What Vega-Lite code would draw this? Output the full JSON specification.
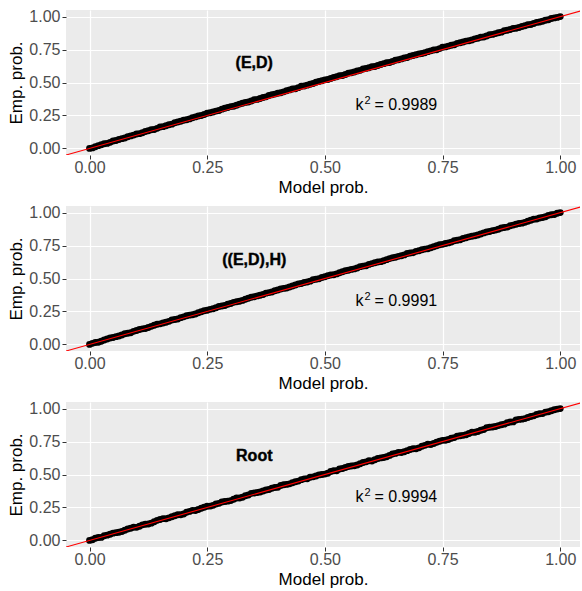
{
  "$schema": "https://vega.github.io/schema/vega-lite/v6.json",
  "padding": {"left": 7, "top": 8, "right": 0, "bottom": 2},
  "bounds": "flush",
  "spacing": 51,
  "background": "white",
  "config": {
    "font": "Liberation Sans",
    "view": {"fill": "#EBEBEB", "stroke": null},
    "axis": {
      "labelFont": "Liberation Sans", "labelFontSize": 16, "labelColor": "#4D4D4D",
      "titleFont": "Liberation Sans", "titleFontSize": 17, "titleFontWeight": "normal", "titleColor": "black",
      "tickColor": "#333333", "tickSize": 4, "tickWidth": 1, "domain": false,
      "gridColor": "white", "gridWidth": 1.2, "labelPadding": 2, "titlePadding": 3
    },
    "axisX": {"labelPadding": 0, "titlePadding": 4}
  },
  "datasets": {
    "p1": [
      {"m":0,"e":0.000},{"m":0.0125,"e":0.012},{"m":0.025,"e":0.028},{"m":0.0375,"e":0.038},{"m":0.05,"e":0.056},{"m":0.0625,"e":0.067},{"m":0.075,"e":0.079},{"m":0.0875,"e":0.095},{"m":0.1,"e":0.109},{"m":0.1125,"e":0.119},
      {"m":0.125,"e":0.134},{"m":0.1375,"e":0.144},{"m":0.15,"e":0.162},{"m":0.1625,"e":0.172},{"m":0.175,"e":0.184},{"m":0.1875,"e":0.200},{"m":0.2,"e":0.214},{"m":0.2125,"e":0.224},{"m":0.225,"e":0.239},{"m":0.2375,"e":0.249},
      {"m":0.25,"e":0.267},{"m":0.2625,"e":0.276},{"m":0.275,"e":0.288},{"m":0.2875,"e":0.304},{"m":0.3,"e":0.317},{"m":0.3125,"e":0.327},{"m":0.325,"e":0.342},{"m":0.3375,"e":0.352},{"m":0.35,"e":0.369},{"m":0.3625,"e":0.379},
      {"m":0.375,"e":0.391},{"m":0.3875,"e":0.407},{"m":0.4,"e":0.419},{"m":0.4125,"e":0.429},{"m":0.425,"e":0.444},{"m":0.4375,"e":0.453},{"m":0.45,"e":0.471},{"m":0.4625,"e":0.480},{"m":0.475,"e":0.492},{"m":0.4875,"e":0.508},
      {"m":0.5,"e":0.520},{"m":0.5125,"e":0.530},{"m":0.525,"e":0.544},{"m":0.5375,"e":0.553},{"m":0.55,"e":0.571},{"m":0.5625,"e":0.580},{"m":0.575,"e":0.592},{"m":0.5875,"e":0.607},{"m":0.6,"e":0.619},{"m":0.6125,"e":0.629},
      {"m":0.625,"e":0.643},{"m":0.6375,"e":0.652},{"m":0.65,"e":0.669},{"m":0.6625,"e":0.679},{"m":0.675,"e":0.690},{"m":0.6875,"e":0.705},{"m":0.7,"e":0.717},{"m":0.7125,"e":0.726},{"m":0.725,"e":0.740},{"m":0.7375,"e":0.749},
      {"m":0.75,"e":0.767},{"m":0.7625,"e":0.776},{"m":0.775,"e":0.787},{"m":0.7875,"e":0.802},{"m":0.8,"e":0.814},{"m":0.8125,"e":0.823},{"m":0.825,"e":0.836},{"m":0.8375,"e":0.845},{"m":0.85,"e":0.862},{"m":0.8625,"e":0.871},
      {"m":0.875,"e":0.882},{"m":0.8875,"e":0.897},{"m":0.9,"e":0.909},{"m":0.9125,"e":0.917},{"m":0.925,"e":0.931},{"m":0.9375,"e":0.940},{"m":0.95,"e":0.956},{"m":0.9625,"e":0.965},{"m":0.975,"e":0.976},{"m":0.9875,"e":0.990},
      {"m":1,"e":1.000},
      {"m":0.00625,"e":0.004},{"m":0.01875,"e":0.021},{"m":0.03125,"e":0.035},{"m":0.04375,"e":0.046},{"m":0.05625,"e":0.060},{"m":0.06875,"e":0.074},{"m":0.08125,"e":0.089},{"m":0.09375,"e":0.101},{"m":0.10625,"e":0.112},{"m":0.11875,"e":0.128},
      {"m":0.13125,"e":0.141},{"m":0.14375,"e":0.152},{"m":0.15625,"e":0.165},{"m":0.16875,"e":0.179},{"m":0.18125,"e":0.194},{"m":0.19375,"e":0.206},{"m":0.20625,"e":0.217},{"m":0.21875,"e":0.233},{"m":0.23125,"e":0.246},{"m":0.24375,"e":0.257},
      {"m":0.25625,"e":0.270},{"m":0.26875,"e":0.283},{"m":0.28125,"e":0.298},{"m":0.29375,"e":0.310},{"m":0.30625,"e":0.320},{"m":0.31875,"e":0.336},{"m":0.33125,"e":0.349},{"m":0.34375,"e":0.360},{"m":0.35625,"e":0.372},{"m":0.36875,"e":0.386},
      {"m":0.38125,"e":0.401},{"m":0.39375,"e":0.412},{"m":0.40625,"e":0.422},{"m":0.41875,"e":0.438},{"m":0.43125,"e":0.451},{"m":0.44375,"e":0.461},{"m":0.45625,"e":0.474},{"m":0.46875,"e":0.487},{"m":0.48125,"e":0.502},{"m":0.49375,"e":0.513},
      {"m":0.50625,"e":0.523},{"m":0.51875,"e":0.538},{"m":0.53125,"e":0.551},{"m":0.54375,"e":0.561},{"m":0.55625,"e":0.574},{"m":0.56875,"e":0.587},{"m":0.58125,"e":0.602},{"m":0.59375,"e":0.612},{"m":0.60625,"e":0.622},{"m":0.61875,"e":0.637},
      {"m":0.63125,"e":0.650},{"m":0.64375,"e":0.660},{"m":0.65625,"e":0.672},{"m":0.66875,"e":0.686},{"m":0.68125,"e":0.700},{"m":0.69375,"e":0.710},{"m":0.70625,"e":0.720},{"m":0.71875,"e":0.734},{"m":0.73125,"e":0.747},{"m":0.74375,"e":0.757},
      {"m":0.75625,"e":0.770},{"m":0.76875,"e":0.783},{"m":0.78125,"e":0.797},{"m":0.79375,"e":0.807},{"m":0.80625,"e":0.817},{"m":0.81875,"e":0.831},{"m":0.83125,"e":0.843},{"m":0.84375,"e":0.853},{"m":0.85625,"e":0.865},{"m":0.86875,"e":0.878},
      {"m":0.88125,"e":0.892},{"m":0.89375,"e":0.902},{"m":0.90625,"e":0.911},{"m":0.91875,"e":0.925},{"m":0.93125,"e":0.938},{"m":0.94375,"e":0.947},{"m":0.95625,"e":0.959},{"m":0.96875,"e":0.972},{"m":0.98125,"e":0.985},{"m":0.99375,"e":0.994}
    ],
    "p2": [
      {"m":0,"e":0.000},{"m":0.0125,"e":0.014},{"m":0.025,"e":0.024},{"m":0.0375,"e":0.041},{"m":0.05,"e":0.052},{"m":0.0625,"e":0.064},{"m":0.075,"e":0.081},{"m":0.0875,"e":0.089},{"m":0.1,"e":0.105},{"m":0.1125,"e":0.118},
      {"m":0.125,"e":0.128},{"m":0.1375,"e":0.145},{"m":0.15,"e":0.156},{"m":0.1625,"e":0.168},{"m":0.175,"e":0.185},{"m":0.1875,"e":0.193},{"m":0.2,"e":0.209},{"m":0.2125,"e":0.222},{"m":0.225,"e":0.231},{"m":0.2375,"e":0.248},
      {"m":0.25,"e":0.259},{"m":0.2625,"e":0.271},{"m":0.275,"e":0.288},{"m":0.2875,"e":0.295},{"m":0.3,"e":0.311},{"m":0.3125,"e":0.324},{"m":0.325,"e":0.334},{"m":0.3375,"e":0.350},{"m":0.35,"e":0.361},{"m":0.3625,"e":0.373},
      {"m":0.375,"e":0.389},{"m":0.3875,"e":0.397},{"m":0.4,"e":0.413},{"m":0.4125,"e":0.425},{"m":0.425,"e":0.435},{"m":0.4375,"e":0.451},{"m":0.45,"e":0.462},{"m":0.4625,"e":0.473},{"m":0.475,"e":0.490},{"m":0.4875,"e":0.498},
      {"m":0.5,"e":0.513},{"m":0.5125,"e":0.526},{"m":0.525,"e":0.535},{"m":0.5375,"e":0.551},{"m":0.55,"e":0.562},{"m":0.5625,"e":0.573},{"m":0.575,"e":0.590},{"m":0.5875,"e":0.597},{"m":0.6,"e":0.613},{"m":0.6125,"e":0.625},
      {"m":0.625,"e":0.634},{"m":0.6375,"e":0.651},{"m":0.65,"e":0.661},{"m":0.6625,"e":0.672},{"m":0.675,"e":0.689},{"m":0.6875,"e":0.696},{"m":0.7,"e":0.711},{"m":0.7125,"e":0.723},{"m":0.725,"e":0.733},{"m":0.7375,"e":0.749},
      {"m":0.75,"e":0.759},{"m":0.7625,"e":0.770},{"m":0.775,"e":0.786},{"m":0.7875,"e":0.794},{"m":0.8,"e":0.809},{"m":0.8125,"e":0.821},{"m":0.825,"e":0.830},{"m":0.8375,"e":0.846},{"m":0.85,"e":0.856},{"m":0.8625,"e":0.867},
      {"m":0.875,"e":0.883},{"m":0.8875,"e":0.890},{"m":0.9,"e":0.905},{"m":0.9125,"e":0.917},{"m":0.925,"e":0.926},{"m":0.9375,"e":0.942},{"m":0.95,"e":0.952},{"m":0.9625,"e":0.963},{"m":0.975,"e":0.979},{"m":0.9875,"e":0.986},
      {"m":1,"e":1.000},
      {"m":0.00625,"e":0.008},{"m":0.01875,"e":0.017},{"m":0.03125,"e":0.033},{"m":0.04375,"e":0.049},{"m":0.05625,"e":0.059},{"m":0.06875,"e":0.071},{"m":0.08125,"e":0.085},{"m":0.09375,"e":0.099},{"m":0.10625,"e":0.113},{"m":0.11875,"e":0.121},
      {"m":0.13125,"e":0.137},{"m":0.14375,"e":0.153},{"m":0.15625,"e":0.163},{"m":0.16875,"e":0.175},{"m":0.18125,"e":0.189},{"m":0.19375,"e":0.203},{"m":0.20625,"e":0.217},{"m":0.21875,"e":0.225},{"m":0.23125,"e":0.240},{"m":0.24375,"e":0.256},
      {"m":0.25625,"e":0.266},{"m":0.26875,"e":0.278},{"m":0.28125,"e":0.292},{"m":0.29375,"e":0.305},{"m":0.30625,"e":0.319},{"m":0.31875,"e":0.327},{"m":0.33125,"e":0.342},{"m":0.34375,"e":0.358},{"m":0.35625,"e":0.368},{"m":0.36875,"e":0.379},
      {"m":0.38125,"e":0.393},{"m":0.39375,"e":0.407},{"m":0.40625,"e":0.420},{"m":0.41875,"e":0.428},{"m":0.43125,"e":0.443},{"m":0.44375,"e":0.459},{"m":0.45625,"e":0.469},{"m":0.46875,"e":0.480},{"m":0.48125,"e":0.494},{"m":0.49375,"e":0.508},
      {"m":0.50625,"e":0.521},{"m":0.51875,"e":0.529},{"m":0.53125,"e":0.543},{"m":0.54375,"e":0.559},{"m":0.55625,"e":0.569},{"m":0.56875,"e":0.580},{"m":0.58125,"e":0.594},{"m":0.59375,"e":0.607},{"m":0.60625,"e":0.620},{"m":0.61875,"e":0.628},
      {"m":0.63125,"e":0.643},{"m":0.64375,"e":0.658},{"m":0.65625,"e":0.668},{"m":0.66875,"e":0.679},{"m":0.68125,"e":0.693},{"m":0.69375,"e":0.706},{"m":0.70625,"e":0.718},{"m":0.71875,"e":0.726},{"m":0.73125,"e":0.741},{"m":0.74375,"e":0.756},
      {"m":0.75625,"e":0.766},{"m":0.76875,"e":0.776},{"m":0.78125,"e":0.790},{"m":0.79375,"e":0.804},{"m":0.80625,"e":0.816},{"m":0.81875,"e":0.824},{"m":0.83125,"e":0.838},{"m":0.84375,"e":0.853},{"m":0.85625,"e":0.863},{"m":0.86875,"e":0.873},
      {"m":0.88125,"e":0.887},{"m":0.89375,"e":0.900},{"m":0.90625,"e":0.912},{"m":0.91875,"e":0.920},{"m":0.93125,"e":0.934},{"m":0.94375,"e":0.949},{"m":0.95625,"e":0.959},{"m":0.96875,"e":0.969},{"m":0.98125,"e":0.983},{"m":0.99375,"e":0.995}
    ],
    "p3": [
      {"m":0,"e":0.000},{"m":0.0125,"e":0.016},{"m":0.025,"e":0.023},{"m":0.0375,"e":0.040},{"m":0.05,"e":0.055},{"m":0.0625,"e":0.062},{"m":0.075,"e":0.077},{"m":0.0875,"e":0.092},{"m":0.1,"e":0.099},{"m":0.1125,"e":0.118},
      {"m":0.125,"e":0.125},{"m":0.1375,"e":0.142},{"m":0.15,"e":0.158},{"m":0.1625,"e":0.164},{"m":0.175,"e":0.179},{"m":0.1875,"e":0.194},{"m":0.2,"e":0.201},{"m":0.2125,"e":0.220},{"m":0.225,"e":0.227},{"m":0.2375,"e":0.244},
      {"m":0.25,"e":0.259},{"m":0.2625,"e":0.266},{"m":0.275,"e":0.281},{"m":0.2875,"e":0.295},{"m":0.3,"e":0.302},{"m":0.3125,"e":0.322},{"m":0.325,"e":0.328},{"m":0.3375,"e":0.345},{"m":0.35,"e":0.360},{"m":0.3625,"e":0.367},
      {"m":0.375,"e":0.382},{"m":0.3875,"e":0.396},{"m":0.4,"e":0.403},{"m":0.4125,"e":0.422},{"m":0.425,"e":0.429},{"m":0.4375,"e":0.445},{"m":0.45,"e":0.461},{"m":0.4625,"e":0.468},{"m":0.475,"e":0.482},{"m":0.4875,"e":0.497},
      {"m":0.5,"e":0.503},{"m":0.5125,"e":0.523},{"m":0.525,"e":0.529},{"m":0.5375,"e":0.546},{"m":0.55,"e":0.561},{"m":0.5625,"e":0.567},{"m":0.575,"e":0.582},{"m":0.5875,"e":0.596},{"m":0.6,"e":0.603},{"m":0.6125,"e":0.622},
      {"m":0.625,"e":0.629},{"m":0.6375,"e":0.645},{"m":0.65,"e":0.660},{"m":0.6625,"e":0.667},{"m":0.675,"e":0.681},{"m":0.6875,"e":0.696},{"m":0.7,"e":0.702},{"m":0.7125,"e":0.721},{"m":0.725,"e":0.728},{"m":0.7375,"e":0.744},
      {"m":0.75,"e":0.759},{"m":0.7625,"e":0.766},{"m":0.775,"e":0.780},{"m":0.7875,"e":0.794},{"m":0.8,"e":0.801},{"m":0.8125,"e":0.820},{"m":0.825,"e":0.826},{"m":0.8375,"e":0.842},{"m":0.85,"e":0.858},{"m":0.8625,"e":0.864},
      {"m":0.875,"e":0.878},{"m":0.8875,"e":0.892},{"m":0.9,"e":0.899},{"m":0.9125,"e":0.918},{"m":0.925,"e":0.924},{"m":0.9375,"e":0.940},{"m":0.95,"e":0.955},{"m":0.9625,"e":0.962},{"m":0.975,"e":0.976},{"m":0.9875,"e":0.991},
      {"m":1,"e":1.000},
      {"m":0.00625,"e":0.005},{"m":0.01875,"e":0.022},{"m":0.03125,"e":0.036},{"m":0.04375,"e":0.047},{"m":0.05625,"e":0.059},{"m":0.06875,"e":0.067},{"m":0.08125,"e":0.087},{"m":0.09375,"e":0.100},{"m":0.10625,"e":0.108},{"m":0.11875,"e":0.122},
      {"m":0.13125,"e":0.131},{"m":0.14375,"e":0.152},{"m":0.15625,"e":0.165},{"m":0.16875,"e":0.171},{"m":0.18125,"e":0.187},{"m":0.19375,"e":0.195},{"m":0.20625,"e":0.213},{"m":0.21875,"e":0.228},{"m":0.23125,"e":0.235},{"m":0.24375,"e":0.252},
      {"m":0.25625,"e":0.260},{"m":0.26875,"e":0.276},{"m":0.28125,"e":0.292},{"m":0.29375,"e":0.298},{"m":0.30625,"e":0.312},{"m":0.31875,"e":0.322},{"m":0.33125,"e":0.339},{"m":0.34375,"e":0.357},{"m":0.35625,"e":0.363},{"m":0.36875,"e":0.375},
      {"m":0.38125,"e":0.386},{"m":0.39375,"e":0.402},{"m":0.40625,"e":0.417},{"m":0.41875,"e":0.425},{"m":0.43125,"e":0.437},{"m":0.44375,"e":0.450},{"m":0.45625,"e":0.467},{"m":0.46875,"e":0.479},{"m":0.48125,"e":0.489},{"m":0.49375,"e":0.500},
      {"m":0.50625,"e":0.510},{"m":0.51875,"e":0.528},{"m":0.53125,"e":0.542},{"m":0.54375,"e":0.553},{"m":0.55625,"e":0.564},{"m":0.56875,"e":0.572},{"m":0.58125,"e":0.591},{"m":0.59375,"e":0.604},{"m":0.60625,"e":0.612},{"m":0.61875,"e":0.626},
      {"m":0.63125,"e":0.634},{"m":0.64375,"e":0.655},{"m":0.65625,"e":0.668},{"m":0.66875,"e":0.673},{"m":0.68125,"e":0.689},{"m":0.69375,"e":0.696},{"m":0.70625,"e":0.714},{"m":0.71875,"e":0.729},{"m":0.73125,"e":0.735},{"m":0.74375,"e":0.752},
      {"m":0.75625,"e":0.760},{"m":0.76875,"e":0.775},{"m":0.78125,"e":0.791},{"m":0.79375,"e":0.797},{"m":0.80625,"e":0.811},{"m":0.81875,"e":0.820},{"m":0.83125,"e":0.836},{"m":0.84375,"e":0.854},{"m":0.85625,"e":0.860},{"m":0.86875,"e":0.871},
      {"m":0.88125,"e":0.882},{"m":0.89375,"e":0.898},{"m":0.90625,"e":0.913},{"m":0.91875,"e":0.920},{"m":0.93125,"e":0.932},{"m":0.94375,"e":0.945},{"m":0.95625,"e":0.961},{"m":0.96875,"e":0.973},{"m":0.98125,"e":0.983},{"m":0.99375,"e":0.996}
    ],
    "diag": [{"x": -0.1, "y": -0.1, "x2": 1.1, "y2": 1.1}],
    "a1": [{"x": 0.35, "y": 0.65, "lab": "(E,D)", "kx": 0.565, "ky": 0.29, "val": "= 0.9989"}],
    "a2": [{"x": 0.35, "y": 0.64, "lab": "((E,D),H)", "kx": 0.565, "ky": 0.29, "val": "= 0.9991"}],
    "a3": [{"x": 0.35, "y": 0.64, "lab": "Root", "kx": 0.565, "ky": 0.29, "val": "= 0.9994"}]
  },
  "vconcat": [
    {
      "width": 514, "height": 145,
      "resolve": {"axis": {"x": "independent", "y": "independent"}},
      "layer": [
        {"data": {"name": "p1"}, "mark": {"type": "circle", "color": "black", "opacity": 1, "size": 48},
         "encoding": {
           "x": {"field": "m", "type": "quantitative", "scale": {"domain": [-0.05, 1.042], "nice": false, "zero": false}, "axis": {"values": [0, 0.25, 0.5, 0.75, 1], "format": ".2f", "title": "Model prob.", "orient": "bottom"}},
           "y": {"field": "e", "type": "quantitative", "scale": {"domain": [-0.05, 1.05], "nice": false, "zero": false}, "axis": {"values": [0, 0.25, 0.5, 0.75, 1], "format": ".2f", "title": "Emp. prob.", "orient": "left"}}}},
        {"data": {"name": "diag"}, "mark": {"type": "rule", "color": "red", "strokeWidth": 1.1, "clip": true},
         "encoding": {
           "x": {"field": "x", "type": "quantitative", "scale": {"domain": [-0.05, 1.042], "nice": false, "zero": false}, "axis": {"values": [0.125, 0.375, 0.625, 0.875], "orient": "top", "labels": false, "ticks": false, "domain": false, "title": null, "gridWidth": 0.6, "minExtent": 0, "maxExtent": 0}},
           "y": {"field": "y", "type": "quantitative", "scale": {"domain": [-0.05, 1.05], "nice": false, "zero": false}, "axis": {"values": [0.125, 0.375, 0.625, 0.875], "orient": "right", "labels": false, "ticks": false, "domain": false, "title": null, "gridWidth": 0.6, "minExtent": 0, "maxExtent": 0}},
           "x2": {"field": "x2"}, "y2": {"field": "y2"}}},
        {"data": {"name": "a1"}, "mark": {"type": "text", "font": "Liberation Sans", "fontSize": 16, "fontWeight": "bold", "color": "black", "stroke": "black", "strokeWidth": 0.4, "align": "center", "baseline": "middle"},
         "encoding": {"x": {"field": "x", "type": "quantitative", "axis": null}, "y": {"field": "y", "type": "quantitative", "axis": null}, "text": {"field": "lab"}}},
        {"data": {"name": "a1"}, "mark": {"type": "text", "font": "Liberation Sans", "fontSize": 16, "color": "black", "align": "left", "baseline": "alphabetic"},
         "encoding": {"x": {"field": "kx", "type": "quantitative", "axis": null}, "y": {"field": "ky", "type": "quantitative", "axis": null}, "text": {"value": "k"}}},
        {"data": {"name": "a1"}, "mark": {"type": "text", "font": "Liberation Sans", "fontSize": 11, "color": "black", "align": "left", "baseline": "alphabetic", "dx": 9, "dy": -6},
         "encoding": {"x": {"field": "kx", "type": "quantitative", "axis": null}, "y": {"field": "ky", "type": "quantitative", "axis": null}, "text": {"value": "2"}}},
        {"data": {"name": "a1"}, "mark": {"type": "text", "font": "Liberation Sans", "fontSize": 16, "color": "black", "align": "left", "baseline": "alphabetic", "dx": 19},
         "encoding": {"x": {"field": "kx", "type": "quantitative", "axis": null}, "y": {"field": "ky", "type": "quantitative", "axis": null}, "text": {"field": "val"}}}
      ]
    },
    {
      "width": 514, "height": 145,
      "resolve": {"axis": {"x": "independent", "y": "independent"}},
      "layer": [
        {"data": {"name": "p2"}, "mark": {"type": "circle", "color": "black", "opacity": 1, "size": 48},
         "encoding": {
           "x": {"field": "m", "type": "quantitative", "scale": {"domain": [-0.05, 1.042], "nice": false, "zero": false}, "axis": {"values": [0, 0.25, 0.5, 0.75, 1], "format": ".2f", "title": "Model prob.", "orient": "bottom"}},
           "y": {"field": "e", "type": "quantitative", "scale": {"domain": [-0.05, 1.05], "nice": false, "zero": false}, "axis": {"values": [0, 0.25, 0.5, 0.75, 1], "format": ".2f", "title": "Emp. prob.", "orient": "left"}}}},
        {"data": {"name": "diag"}, "mark": {"type": "rule", "color": "red", "strokeWidth": 1.1, "clip": true},
         "encoding": {
           "x": {"field": "x", "type": "quantitative", "scale": {"domain": [-0.05, 1.042], "nice": false, "zero": false}, "axis": {"values": [0.125, 0.375, 0.625, 0.875], "orient": "top", "labels": false, "ticks": false, "domain": false, "title": null, "gridWidth": 0.6, "minExtent": 0, "maxExtent": 0}},
           "y": {"field": "y", "type": "quantitative", "scale": {"domain": [-0.05, 1.05], "nice": false, "zero": false}, "axis": {"values": [0.125, 0.375, 0.625, 0.875], "orient": "right", "labels": false, "ticks": false, "domain": false, "title": null, "gridWidth": 0.6, "minExtent": 0, "maxExtent": 0}},
           "x2": {"field": "x2"}, "y2": {"field": "y2"}}},
        {"data": {"name": "a2"}, "mark": {"type": "text", "font": "Liberation Sans", "fontSize": 16, "fontWeight": "bold", "color": "black", "stroke": "black", "strokeWidth": 0.4, "align": "center", "baseline": "middle"},
         "encoding": {"x": {"field": "x", "type": "quantitative", "axis": null}, "y": {"field": "y", "type": "quantitative", "axis": null}, "text": {"field": "lab"}}},
        {"data": {"name": "a2"}, "mark": {"type": "text", "font": "Liberation Sans", "fontSize": 16, "color": "black", "align": "left", "baseline": "alphabetic"},
         "encoding": {"x": {"field": "kx", "type": "quantitative", "axis": null}, "y": {"field": "ky", "type": "quantitative", "axis": null}, "text": {"value": "k"}}},
        {"data": {"name": "a2"}, "mark": {"type": "text", "font": "Liberation Sans", "fontSize": 11, "color": "black", "align": "left", "baseline": "alphabetic", "dx": 9, "dy": -6},
         "encoding": {"x": {"field": "kx", "type": "quantitative", "axis": null}, "y": {"field": "ky", "type": "quantitative", "axis": null}, "text": {"value": "2"}}},
        {"data": {"name": "a2"}, "mark": {"type": "text", "font": "Liberation Sans", "fontSize": 16, "color": "black", "align": "left", "baseline": "alphabetic", "dx": 19},
         "encoding": {"x": {"field": "kx", "type": "quantitative", "axis": null}, "y": {"field": "ky", "type": "quantitative", "axis": null}, "text": {"field": "val"}}}
      ]
    },
    {
      "width": 514, "height": 145,
      "resolve": {"axis": {"x": "independent", "y": "independent"}},
      "layer": [
        {"data": {"name": "p3"}, "mark": {"type": "circle", "color": "black", "opacity": 1, "size": 48},
         "encoding": {
           "x": {"field": "m", "type": "quantitative", "scale": {"domain": [-0.05, 1.042], "nice": false, "zero": false}, "axis": {"values": [0, 0.25, 0.5, 0.75, 1], "format": ".2f", "title": "Model prob.", "orient": "bottom"}},
           "y": {"field": "e", "type": "quantitative", "scale": {"domain": [-0.05, 1.05], "nice": false, "zero": false}, "axis": {"values": [0, 0.25, 0.5, 0.75, 1], "format": ".2f", "title": "Emp. prob.", "orient": "left"}}}},
        {"data": {"name": "diag"}, "mark": {"type": "rule", "color": "red", "strokeWidth": 1.1, "clip": true},
         "encoding": {
           "x": {"field": "x", "type": "quantitative", "scale": {"domain": [-0.05, 1.042], "nice": false, "zero": false}, "axis": {"values": [0.125, 0.375, 0.625, 0.875], "orient": "top", "labels": false, "ticks": false, "domain": false, "title": null, "gridWidth": 0.6, "minExtent": 0, "maxExtent": 0}},
           "y": {"field": "y", "type": "quantitative", "scale": {"domain": [-0.05, 1.05], "nice": false, "zero": false}, "axis": {"values": [0.125, 0.375, 0.625, 0.875], "orient": "right", "labels": false, "ticks": false, "domain": false, "title": null, "gridWidth": 0.6, "minExtent": 0, "maxExtent": 0}},
           "x2": {"field": "x2"}, "y2": {"field": "y2"}}},
        {"data": {"name": "a3"}, "mark": {"type": "text", "font": "Liberation Sans", "fontSize": 16, "fontWeight": "bold", "color": "black", "stroke": "black", "strokeWidth": 0.4, "align": "center", "baseline": "middle"},
         "encoding": {"x": {"field": "x", "type": "quantitative", "axis": null}, "y": {"field": "y", "type": "quantitative", "axis": null}, "text": {"field": "lab"}}},
        {"data": {"name": "a3"}, "mark": {"type": "text", "font": "Liberation Sans", "fontSize": 16, "color": "black", "align": "left", "baseline": "alphabetic"},
         "encoding": {"x": {"field": "kx", "type": "quantitative", "axis": null}, "y": {"field": "ky", "type": "quantitative", "axis": null}, "text": {"value": "k"}}},
        {"data": {"name": "a3"}, "mark": {"type": "text", "font": "Liberation Sans", "fontSize": 11, "color": "black", "align": "left", "baseline": "alphabetic", "dx": 9, "dy": -6},
         "encoding": {"x": {"field": "kx", "type": "quantitative", "axis": null}, "y": {"field": "ky", "type": "quantitative", "axis": null}, "text": {"value": "2"}}},
        {"data": {"name": "a3"}, "mark": {"type": "text", "font": "Liberation Sans", "fontSize": 16, "color": "black", "align": "left", "baseline": "alphabetic", "dx": 19},
         "encoding": {"x": {"field": "kx", "type": "quantitative", "axis": null}, "y": {"field": "ky", "type": "quantitative", "axis": null}, "text": {"field": "val"}}}
      ]
    }
  ]
}
